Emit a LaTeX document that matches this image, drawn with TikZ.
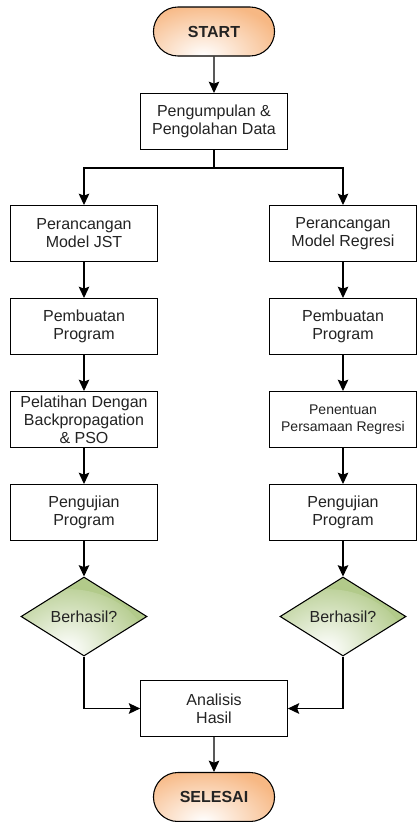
\documentclass[tikz,border=0pt]{standalone}
\usepackage{fontspec}
\setmainfont{Liberation Sans}
\usetikzlibrary{arrows.meta,shapes.geometric,shapes.misc}
\definecolor{startorange}{RGB}{247,184,132}
\definecolor{decgreen}{RGB}{178,202,138}
\definecolor{txtgrey}{RGB}{35,35,35}

\begin{document}
\begin{tikzpicture}[x=0.75pt,y=-0.75pt,->,>={Stealth[length=8.5pt,width=8pt,inset=1.5pt]},
  line width=0.8pt,node distance=69.75pt,font=\fontsize{12}{13.5}\selectfont,
  main node/.style={rectangle,draw,fill=white,text=txtgrey,minimum width=110pt,minimum height=42pt,inner sep=1pt,align=center},
  end node/.style={rounded rectangle,draw,fill=startorange,text=txtgrey,minimum width=97.5pt,minimum height=36.75pt,
    path picture={\shade[-,inner color=white,outer color=startorange] ([xshift=-8pt]path picture bounding box.south) ellipse (62pt and 40pt);}},
  dec node/.style={diamond,draw,fill=decgreen,text=txtgrey,aspect=1.6,minimum width=94.5pt,minimum height=59.25pt,inner sep=0pt,
    path picture={\shade[-,inner color=white,outer color=decgreen] ([xshift=-12pt]path picture bounding box.south) ellipse (62pt and 50pt);}}]

  \useasboundingbox (0,0) rectangle (417,822);

  \node[end node] (1) at (214,31.5) {\textbf{START}};
  \node[main node] (2) at (214,121.5) {Pengumpulan \&\\Pengolahan Data};
  \coordinate (j) at (214,168);
  % kolom JST
  \node[main node] (3) at (84,233.5) {Perancangan\\Model JST};
  \node[main node] (4) [below of=3] {Pembuatan\\Program};
  \node[main node] (5) [below of=4] {Pelatihan Dengan\\Backpropagation\\\& PSO};
  \node[main node] (6) [below of=5] {Pengujian\\Program};
  \node[dec node] (7) [below of=6,yshift=-8.25pt] {Berhasil?};
  % kolom regresi
  \node[main node] (8) at (343,233.5) {Perancangan\\Model Regresi};
  \node[main node] (9) [below of=8] {Pembuatan\\Program};
  \node[main node] (10) [below of=9,font=\fontsize{10.5}{12.5}\selectfont] {Penentuan\\Persamaan Regresi};
  \node[main node] (11) [below of=10] {Pengujian\\Program};
  \node[dec node] (12) [below of=11,yshift=-8.25pt] {Berhasil?};

  \node[main node] (13) at (214,708.5) {Analisis\\Hasil};
  \node[end node] (14) at (214,797) {\textbf{SELESAI}};

  \path (1) edge (2);
  \draw[-] (2) -- (j);
  \draw (j) -| (3);
  \draw (j) -| (8);
  \path
    (3) edge (4)
    (4) edge (5)
    (5) edge (6)
    (6) edge (7)
    (8) edge (9)
    (9) edge (10)
    (10) edge (11)
    (11) edge (12);
  \draw (7) |- (13);
  \draw (12) |- (13);
  \path (13) edge (14);
\end{tikzpicture}
\end{document}
